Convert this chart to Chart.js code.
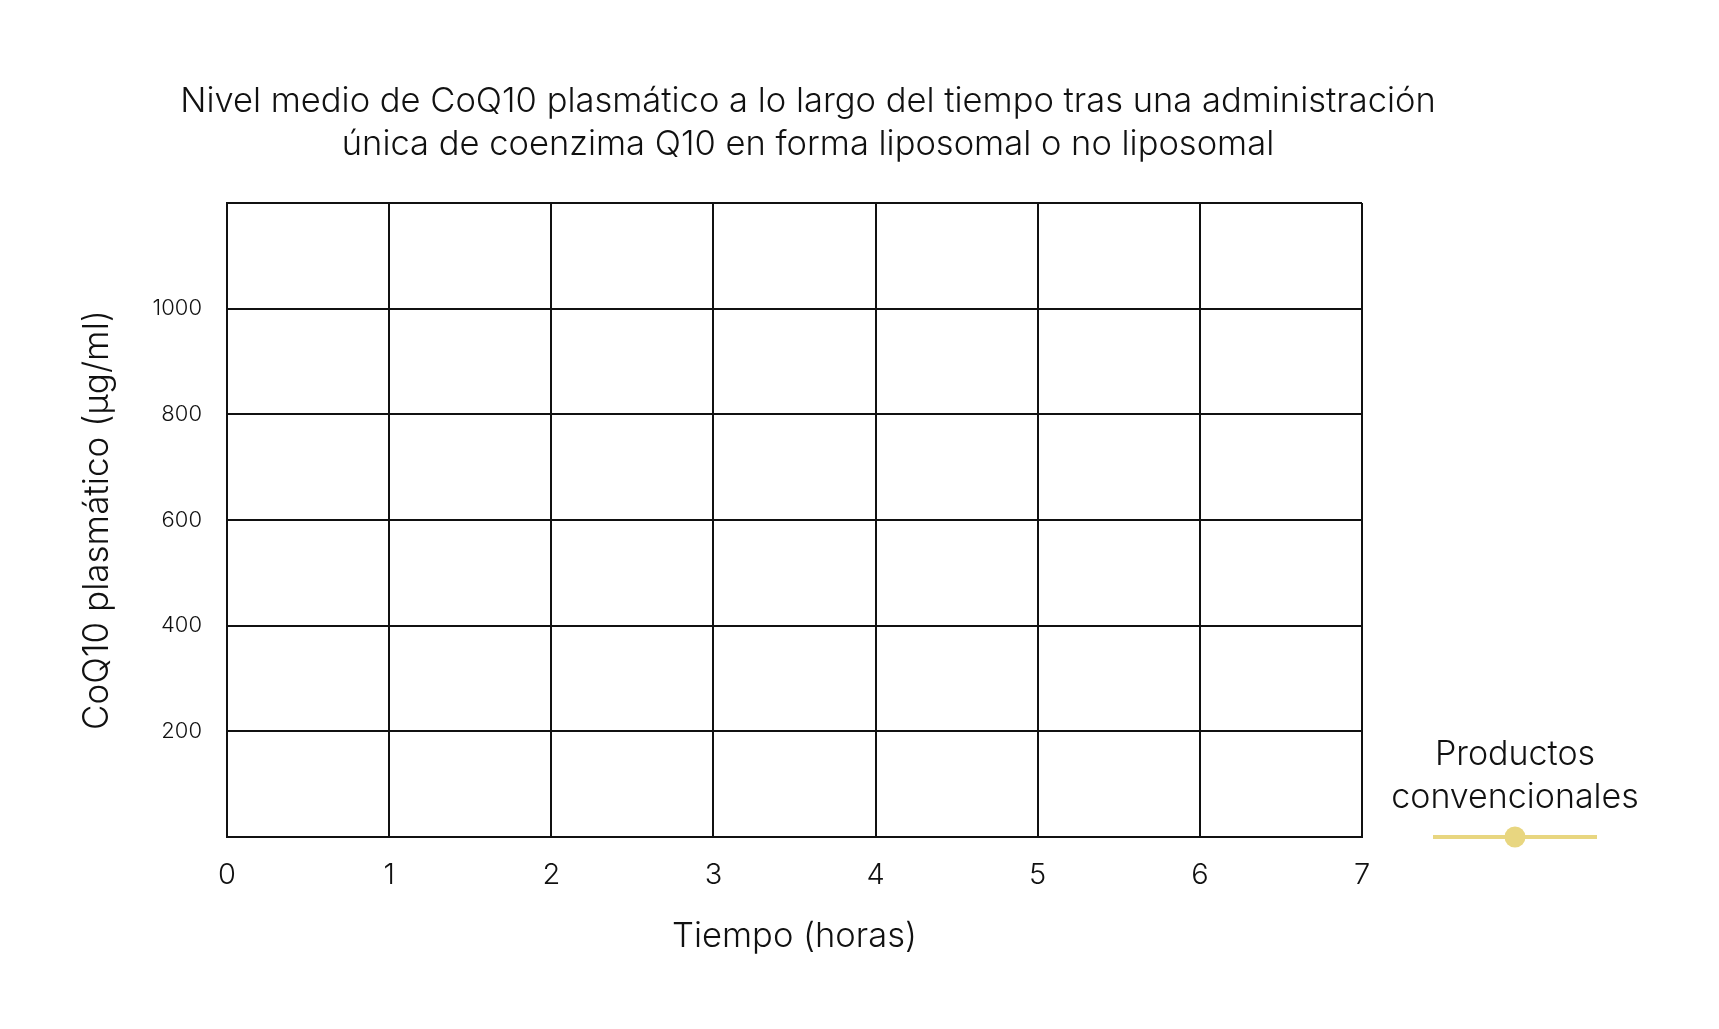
<!DOCTYPE html>
<html lang="es">
<head>
<meta charset="utf-8">
<title>Nivel medio de CoQ10 plasmático</title>
<script src="https://cdn.jsdelivr.net/npm/chart.js@4.4.1/dist/chart.umd.min.js"></script>
<style>
  html, body { margin: 0; padding: 0; background: #fff; }
  #wrap { width: 1719px; height: 1029px; }
</style>
</head>
<body>
<div id="wrap"><canvas id="chart"></canvas></div>
<script>
const titleLines = [
  'Nivel medio de CoQ10 plasmático a lo largo del tiempo tras una administración',
  'única de coenzima Q10 en forma liposomal o no liposomal'
];
const xTitle = 'Tiempo (horas)';
const yTitle = 'CoQ10 plasmático (µg/ml)';
const hours = [0, 1, 2, 3, 4, 5, 6, 7];          // x axis ticks
const yTicks = [200, 400, 600, 800, 1000];       // labelled y ticks
const yMax = 1200;
const seriesLabel = 'Productos convencionales';
const seriesValues = [];                          // the reference shows no points yet
const seriesColor = '#e8d680';

const ink = '#111';
const fontFamily = 'Inter, "Noto Sans", sans-serif';

// box on the right of the plot that holds the legend
function drawLegend(chart, box) {
  const ctx = chart.ctx;
  const ds = chart.data.datasets[0];
  const bottom = chart.chartArea.bottom;
  const cx = box.left + 153;
  ctx.save();
  ctx.fillStyle = ink;
  ctx.font = '300 34px ' + fontFamily;
  ctx.textAlign = 'center';
  ctx.textBaseline = 'middle';
  ds.label.split(' ').forEach((w, i) => ctx.fillText(w, cx, bottom - 82 + i * 43));
  ctx.strokeStyle = ds.borderColor;
  ctx.lineWidth = 4;
  ctx.beginPath();
  ctx.moveTo(cx - 82, bottom);
  ctx.lineTo(cx + 82, bottom);
  ctx.stroke();
  ctx.fillStyle = ds.pointBackgroundColor;
  ctx.beginPath();
  ctx.arc(cx, bottom, 10.5, 0, Math.PI * 2);
  ctx.fill();
  ctx.restore();
}

const sideLegend = {
  id: 'sideLegend',
  beforeInit(chart) {
    const box = {
      position: 'right',
      weight: 10,
      fullSize: false,
      options: {},
      left: 0, top: 0, right: 0, bottom: 0, width: 0, height: 0,
      isHorizontal: () => false,
      update(maxWidth, maxHeight) {
        this.width = 178;
        this.height = maxHeight;
      },
      draw() { drawLegend(chart, this); }
    };
    Chart.layouts.addBox(chart, box);
  }
};

new Chart(document.getElementById('chart'), {
  type: 'line',
  data: {
    datasets: [{
      label: seriesLabel,
      data: seriesValues,
      borderColor: seriesColor,
      backgroundColor: seriesColor,
      pointBackgroundColor: seriesColor,
      borderWidth: 4,
      pointRadius: 10,
      fill: false
    }]
  },
  options: {
    responsive: true,
    maintainAspectRatio: false,
    animation: false,
    layout: { padding: { top: 0, left: 76, right: 179, bottom: 40 } },
    plugins: {
      legend: { display: false },
      tooltip: { enabled: false },
      title: {
        display: true,
        text: titleLines,
        color: ink,
        font: { family: fontFamily, size: 34.5, weight: 300, lineHeight: 1.246 },
        padding: { top: 80.5, bottom: 36.5 }
      }
    },
    scales: {
      x: {
        type: 'linear',
        min: hours[0],
        max: hours[hours.length - 1],
        afterBuildTicks: (scale) => { scale.ticks = hours.map(v => ({ value: v })); },
        afterFit: (scale) => { scale.height = 152; },
        grid: { color: ink, lineWidth: 2, drawTicks: false },
        border: { color: ink, width: 2 },
        ticks: {
          color: ink,
          padding: 21,
          font: { family: fontFamily, size: 29, weight: 300 }
        },
        title: {
          display: true,
          text: xTitle,
          color: ink,
          padding: { top: 0, bottom: 32 },
          font: { family: fontFamily, size: 34.5, weight: 300 }
        }
      },
      y: {
        min: 0,
        max: yMax,
        afterBuildTicks: (scale) => {
          scale.ticks = [0].concat(yTicks, [yMax]).map(v => ({ value: v }));
        },
        afterFit: (scale) => { scale.width = 151; },
        grid: { color: ink, lineWidth: 2, drawTicks: false },
        border: { color: ink, width: 2 },
        ticks: {
          color: ink,
          padding: 25,
          font: { family: fontFamily, size: 22, weight: 300 },
          callback: (v) => yTicks.includes(v) ? String(v) : ''
        },
        title: {
          display: true,
          text: yTitle,
          color: ink,
          padding: 0,
          font: { family: fontFamily, size: 35, weight: 300 }
        }
      }
    }
  },
  plugins: [sideLegend]
});
</script>
</body>
</html>
